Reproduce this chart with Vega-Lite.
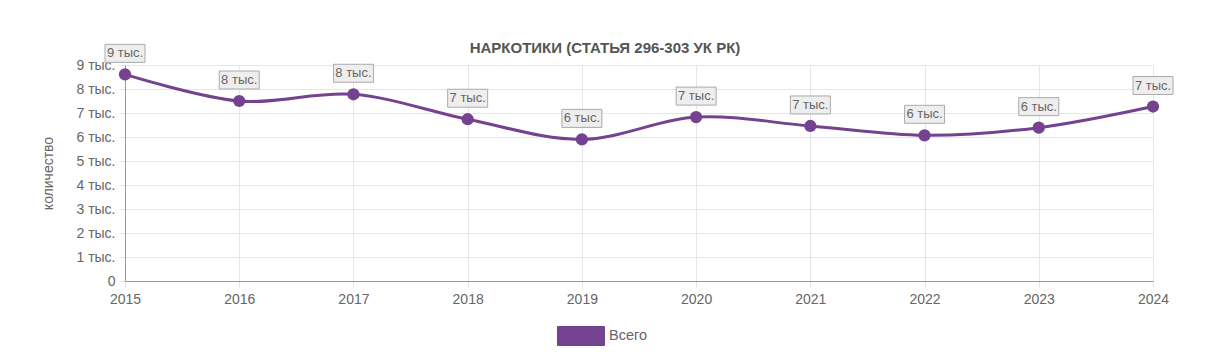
{
  "$schema": "https://vega.github.io/schema/vega-lite/v6.json",
  "autosize": "none",
  "width": 1028,
  "height": 216,
  "padding": {"left": 125, "top": 65, "right": 76, "bottom": 80},
  "background": "white",
  "config": {
    "font": "Liberation Sans",
    "view": {"stroke": null},
    "axis": {"labelFont": "Liberation Sans", "titleFont": "Liberation Sans"}
  },
  "title": {
    "text": "НАРКОТИКИ (СТАТЬЯ 296-303 УК РК)",
    "font": "Liberation Sans",
    "fontSize": 15,
    "fontWeight": "bold",
    "color": "#555555",
    "anchor": "middle",
    "dx": -34,
    "dy": 27,
    "offset": 13
  },
  "data": {
    "values": [
      {"year": "2015", "value": 8610, "label": "9 тыс.", "series": "Всего"},
      {"year": "2016", "value": 7500, "label": "8 тыс.", "series": "Всего"},
      {"year": "2017", "value": 7780, "label": "8 тыс.", "series": "Всего"},
      {"year": "2018", "value": 6740, "label": "7 тыс.", "series": "Всего"},
      {"year": "2019", "value": 5900, "label": "6 тыс.", "series": "Всего"},
      {"year": "2020", "value": 6830, "label": "7 тыс.", "series": "Всего"},
      {"year": "2021", "value": 6460, "label": "7 тыс.", "series": "Всего"},
      {"year": "2022", "value": 6070, "label": "6 тыс.", "series": "Всего"},
      {"year": "2023", "value": 6390, "label": "6 тыс.", "series": "Всего"},
      {"year": "2024", "value": 7270, "label": "7 тыс.", "series": "Всего"}
    ]
  },
  "encoding": {
    "x": {
      "field": "year",
      "type": "ordinal",
      "scale": {"type": "point", "padding": 0},
      "axis": {
        "title": null,
        "labelAngle": 0,
        "labelFontSize": 14,
        "labelColor": "#666666",
        "labelPadding": 5,
        "grid": true,
        "gridColor": "#e6e6e6",
        "domainColor": "#999999",
        "tickColor": "#e6e6e6",
        "tickSize": 6
      }
    },
    "y": {
      "field": "value",
      "type": "quantitative",
      "scale": {"domain": [0, 9000], "nice": false},
      "axis": {
        "title": "количество",
        "titleFontSize": 14,
        "titleFontWeight": "normal",
        "titleColor": "#666666",
        "titlePadding": 20,
        "values": [0, 1000, 2000, 3000, 4000, 5000, 6000, 7000, 8000, 9000],
        "labelExpr": "datum.value == 0 ? '0' : (datum.value / 1000) + ' тыс.'",
        "labelFontSize": 14,
        "labelColor": "#666666",
        "labelPadding": 4,
        "grid": true,
        "gridColor": "#e6e6e6",
        "domainColor": "#999999",
        "tickColor": "#e6e6e6",
        "tickSize": 6
      }
    }
  },
  "layer": [
    {
      "mark": {"type": "line", "interpolate": "cardinal", "strokeWidth": 3},
      "encoding": {
        "color": {
          "field": "series",
          "type": "nominal",
          "scale": {"range": ["#74428f"]},
          "legend": {
            "title": null,
            "orient": "none",
            "legendX": 432,
            "legendY": 247,
            "symbolType": "M-1,-0.404L1,-0.404L1,0.404L-1,0.404Z",
            "symbolSize": 2209,
            "symbolFillColor": "#74428f",
            "symbolStrokeColor": "#c8a6d6",
            "symbolStrokeWidth": 1,
            "labelFontSize": 14.5,
            "labelColor": "#666666",
            "labelFont": "Liberation Sans"
          }
        }
      }
    },
    {
      "mark": {"type": "point", "filled": true, "size": 150, "color": "#74428f", "opacity": 1}
    },
    {
      "mark": {
        "type": "point",
        "shape": "M-1,-0.45L1,-0.45L1,0.45L-1,0.45Z",
        "size": 1600,
        "filled": true,
        "fill": "#eeeeee",
        "stroke": "#aaaaaa",
        "strokeWidth": 1,
        "opacity": 1,
        "yOffset": -21
      }
    },
    {
      "mark": {
        "type": "text",
        "fontSize": 13,
        "color": "#666666",
        "baseline": "middle",
        "align": "center",
        "yOffset": -21
      },
      "encoding": {"text": {"field": "label"}}
    }
  ]
}
